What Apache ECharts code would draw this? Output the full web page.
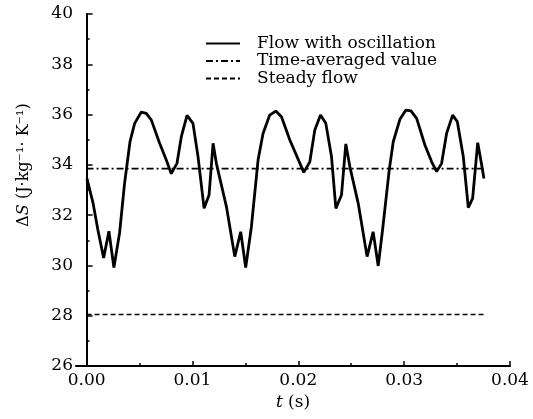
<!DOCTYPE html>
<html>
<head>
<meta charset="utf-8">
<script src="https://cdn.jsdelivr.net/npm/echarts@6/dist/echarts.min.js"></script>
<style>
html,body{margin:0;padding:0;background:#fff;}
#c{width:533px;height:419px;}
</style>
</head>
<body>
<div id="c"></div>
<script>
// Flow with oscillation: [t (s), ΔS]
const oscT = [0.00003,0.0006,0.00107,0.00161,0.00211,0.00258,0.00312,0.00359,0.0041,0.00454,0.00517,0.00564,0.00612,0.0069,0.00753,0.008,0.00854,0.00895,0.00949,0.01005,0.01053,0.0111,0.01157,0.01195,0.01226,0.01321,0.014,0.01456,0.01503,0.01557,0.0162,0.01667,0.0173,0.01787,0.01841,0.0192,0.02052,0.02109,0.02156,0.0221,0.0226,0.02314,0.02355,0.02408,0.02449,0.02487,0.02566,0.0265,0.02707,0.02755,0.02796,0.02859,0.02897,0.0296,0.03017,0.03064,0.03118,0.03196,0.0326,0.03307,0.03354,0.03401,0.03458,0.03502,0.03559,0.03606,0.03647,0.03695,0.03716,0.03754];
const oscV = [33.46,32.5,31.41,30.3,31.36,29.92,31.3,33.27,34.92,35.65,36.1,36.05,35.78,34.86,34.19,33.65,34.06,35.12,35.97,35.65,34.32,32.27,32.8,34.86,34.06,32.34,30.35,31.34,29.92,31.54,34.19,35.25,35.98,36.14,35.91,34.99,33.7,34.12,35.39,35.98,35.65,34.32,32.27,32.8,34.83,33.93,32.47,30.35,31.34,29.98,31.41,33.79,34.92,35.81,36.18,36.15,35.85,34.79,34.12,33.73,34.06,35.25,35.98,35.72,34.32,32.3,32.67,34.88,34.39,33.46];
// Time-averaged value
const avgT = [0, 0.0375];
const avgV = [33.85, 33.85];
// Steady flow
const steadyT = [0, 0.0375];
const steadyV = [28.05, 28.05];
// Axis ticks
const xTicks = [0.00, 0.01, 0.02, 0.03, 0.04];
const xMinorTicks = [0.005, 0.015, 0.025, 0.035];
const yTicks = [26, 28, 30, 32, 34, 36, 38, 40];
const seriesNames = ['Flow with oscillation', 'Time-averaged value', 'Steady flow'];

const zip = (a, b) => a.map((v, i) => [v, b[i]]);
const font = 'DejaVu Serif';
const xMin = -0.001;

const chart = echarts.init(document.getElementById('c'), null, {renderer: 'canvas'});
chart.setOption({
  backgroundColor: '#fff',
  animation: false,
  grid: {left: 76, right: 23, top: 14, bottom: 53, containLabel: false},
  legend: {
    orient: 'vertical',
    left: 200,
    top: 30,
    itemWidth: 34,
    itemHeight: 14,
    itemGap: 0.5,
    data: seriesNames,
    itemStyle: {color: 'rgba(0,0,0,0)', borderColor: 'rgba(0,0,0,0)', borderWidth: 0, opacity: 0},
    textStyle: {fontFamily: font, fontSize: 17, lineHeight: 17, color: '#000', padding: [0, 0, 0, 12]}
  },
  xAxis: [{
    type: 'value',
    position: 'bottom',
    min: xMin,
    max: xTicks[xTicks.length - 1],
    name: '{i|t} (s)',
    nameLocation: 'middle',
    nameGap: 4,
    nameTextStyle: {fontFamily: font, fontSize: 17, color: '#000',
      rich: {i: {fontFamily: font, fontSize: 17, fontStyle: 'italic', color: '#000'}}},
    axisLine: {show: true, lineStyle: {color: '#000', width: 2}},
    axisTick: {show: true, inside: true, length: 5, customValues: xTicks, lineStyle: {color: '#000', width: 1.5}},
    splitLine: {show: false},
    axisLabel: {
      fontFamily: font, fontSize: 17, color: '#000', margin: 6,
      customValues: xTicks,
      formatter: v => v.toFixed(2)
    }
  }, {
    type: 'value',
    position: 'bottom',
    offset: 0,
    min: xMin,
    max: xTicks[xTicks.length - 1],
    axisLine: {show: false},
    axisTick: {show: true, inside: true, length: 3, customValues: xMinorTicks, lineStyle: {color: '#000', width: 1.5}},
    axisLabel: {show: false},
    splitLine: {show: false}
  }],
  yAxis: {
    type: 'value',
    min: yTicks[0],
    max: yTicks[yTicks.length - 1],
    interval: 2,
    name: 'Δ{i|S} (J·kg⁻¹· K⁻¹)',
    nameLocation: 'middle',
    nameGap: 44,
    nameTextStyle: {fontFamily: font, fontSize: 16, color: '#000', padding: [0, 0, 0, 50],
      rich: {i: {fontFamily: font, fontSize: 16, fontStyle: 'italic', color: '#000'}}},
    axisLine: {show: true, lineStyle: {color: '#000', width: 2}},
    axisTick: {show: true, inside: true, length: 6, lineStyle: {color: '#000', width: 1.5}},
    minorTick: {show: true, splitNumber: 2, length: 3, lineStyle: {color: '#000', width: 1.5}},
    splitLine: {show: false},
    axisLabel: {fontFamily: font, fontSize: 17, color: '#000', margin: 3}
  },
  series: [
    {
      name: seriesNames[0], type: 'line', data: zip(oscT, oscV),
      symbol: 'none', lineStyle: {color: '#000', width: 2.8, type: 'solid'}, itemStyle: {color: '#000'}
    },
    {
      name: seriesNames[1], type: 'line', data: zip(avgT, avgV),
      symbol: 'none', lineStyle: {color: '#000', width: 1.6, type: [7, 3, 2, 3]}, itemStyle: {color: '#000'}
    },
    {
      name: seriesNames[2], type: 'line', data: zip(steadyT, steadyV),
      symbol: 'none', lineStyle: {color: '#000', width: 1.6, type: [5, 3]}, itemStyle: {color: '#000'}
    }
  ]
});
</script>
</body>
</html>
